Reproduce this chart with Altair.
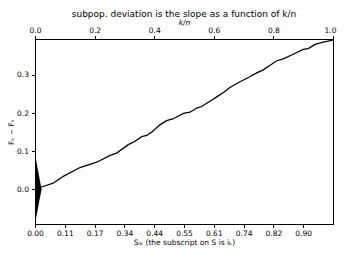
import altair as alt
import pandas as pd

# line: k/n vs deviation
kn = [0.0, 0.022, 0.061, 0.095, 0.151, 0.207, 0.252, 0.274, 0.313, 0.336, 0.358, 0.375,
      0.392, 0.419, 0.442, 0.464, 0.498, 0.520, 0.543, 0.559, 0.587, 0.615, 0.635, 0.654,
      0.688, 0.721, 0.744, 0.766, 0.794, 0.811, 0.833, 0.861, 0.900, 0.917, 0.940, 0.967, 1.0]
dev = [0.0, 0.006, 0.016, 0.034, 0.057, 0.071, 0.089, 0.095, 0.117, 0.126, 0.138, 0.141,
       0.150, 0.169, 0.180, 0.185, 0.199, 0.202, 0.213, 0.217, 0.231, 0.245, 0.255, 0.267,
       0.282, 0.295, 0.305, 0.313, 0.328, 0.337, 0.342, 0.352, 0.367, 0.369, 0.380, 0.386, 0.391]

# triangle at origin
tri_x = [0.0, 0.022]
tri_lo = [-0.091, 0.0]
tri_hi = [0.091, 0.0]

# bottom tick labels
bottom_ticks = [0.0, 0.1, 0.2, 0.3, 0.4, 0.5, 0.6, 0.7, 0.8, 0.9]
bottom_labels = ["0.00", "0.11", "0.17", "0.34", "0.44", "0.55", "0.61", "0.74", "0.82", "0.90"]
top_ticks = [0.0, 0.2, 0.4, 0.6, 0.8, 1.0]
y_ticks = [0.0, 0.1, 0.2, 0.3]

line_df = pd.DataFrame({"kn": kn, "dev": dev})
tri_df = pd.DataFrame({"kn": tri_x, "lo": tri_lo, "hi": tri_hi})

xscale = alt.Scale(domain=[0, 1], nice=False, zero=False)
yscale = alt.Scale(domain=[-0.091, 0.394], nice=False, zero=False)

label_arr = "[" + ",".join("'%s'" % s for s in bottom_labels) + "]"

axis_common = dict(domainColor="black", tickColor="black", labelColor="black",
                   titleColor="black", labelFontSize=7.5, titleFontSize=7.5,
                   tickSize=3.5, grid=False, labelFont="DejaVu Sans",
                   titleFont="DejaVu Sans", titleFontWeight="normal",
                   labelFlush=False, labelOverlap=False)

line = alt.Chart(line_df).mark_line(color="black", strokeWidth=1.3).encode(
    x=alt.X("kn:Q", scale=xscale,
            axis=alt.Axis(orient="bottom", values=bottom_ticks,
                          labelExpr=label_arr + "[round(datum.value*10)]",
                          labelPadding=1.5,
                          title="Sᵢₖ (the subscript on S is iₖ)", titlePadding=2,
                          **axis_common)),
    y=alt.Y("dev:Q", scale=yscale,
            axis=alt.Axis(values=y_ticks, format=".1f", title="Fₖ − F̃ₖ",
                          labelPadding=3, titlePadding=1, **axis_common)),
)

tri = alt.Chart(tri_df).mark_area(color="black", opacity=1).encode(
    x=alt.X("kn:Q", scale=xscale,
            axis=alt.Axis(orient="top", values=top_ticks, format=".1f",
                          title="k/n", titleFontStyle="italic", titlePadding=0,
                          labelPadding=1,
                          labelOffset={"condition": {"test": "datum.value >= 1", "value": -3},
                                       "value": 0},
                          **axis_common)),
    y=alt.Y("lo:Q", scale=yscale),
    y2="hi:Q",
)

chart = alt.layer(tri, line).resolve_axis(x="independent").properties(
    width=298, height=185,
    autosize="none",
    padding={"left": 27, "top": 31, "right": 4, "bottom": 30},
    title=alt.TitleParams("subpop. deviation is the slope as a function of k/n",
                          fontSize=9, font="DejaVu Sans", fontWeight="normal",
                          color="black", offset=0),
).configure_view(stroke="black", strokeWidth=1)

chart.save("out.html", embed_options={"renderer": "svg", "actions": False})
